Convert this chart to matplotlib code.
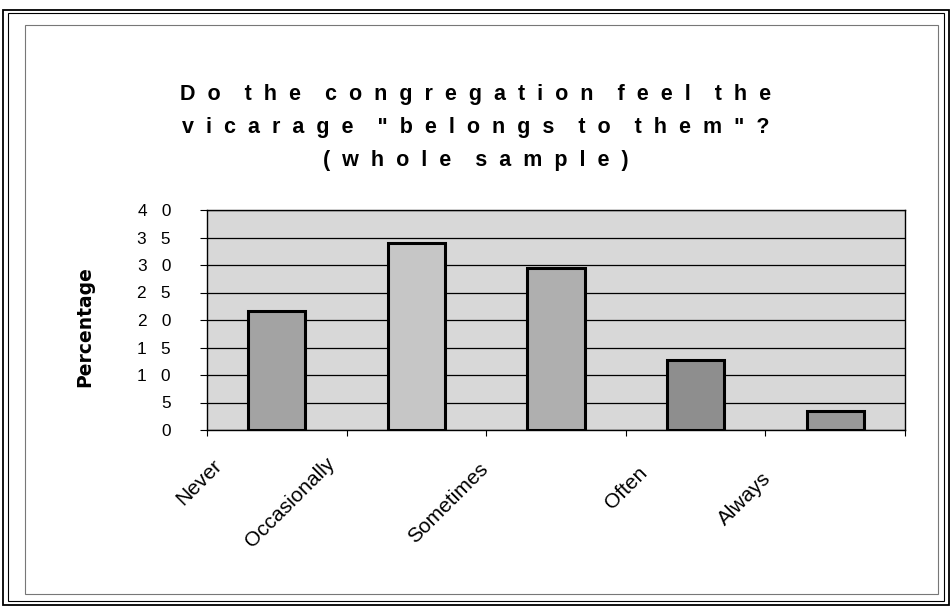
import matplotlib.pyplot as plt
import matplotlib.transforms as mtransforms
from matplotlib.patches import Rectangle

categories = ["Never", "Occasionally", "Sometimes", "Often", "Always"]
percentages = [21.6, 34.0, 29.5, 12.7, 3.5]
y_ticks = [0, 5, 10, 15, 20, 25, 30, 35, 40]
y_tick_labels = ["0", "5", "10", "15", "20", "25", "30", "35", "40"]
title_lines = [
    'Do the congregation feel the',
    'vicarage "belongs to them"?',
    '(whole sample)',
]

bar_colors = ["#a3a3a3", "#c6c6c6", "#afafaf", "#8e8e8e", "#999999"]
# where each rotated label ends, relative to its bar centre (px)
label_shift = [(-58, -33), (-84, -31), (-71, -36), (-51, -40), (-67, -46)]


def spaced(s, gap="  ", word_gap="    "):
    # the old chart prints its title and numbers letter-spaced
    return word_gap.join(gap.join(w) for w in s.split(" "))


plt.rcParams["font.family"] = ["Liberation Sans", "DejaVu Sans"]

W, H = 952, 608
fig = plt.figure(figsize=(W / 100, H / 100), dpi=100)

# frames round the chart
fig.patches.append(Rectangle((3 / W, 3 / H), 1 - 6 / W, 1 - 13 / H, transform=fig.transFigure,
                             fill=False, edgecolor="black", linewidth=1.3))
fig.patches.append(Rectangle((8 / W, 7 / H), 1 - 16 / W, 1 - 20 / H, transform=fig.transFigure,
                             fill=False, edgecolor="black", linewidth=0.8))
fig.patches.append(Rectangle((25 / W, 14 / H), 913 / W, 569 / H, transform=fig.transFigure,
                             fill=False, edgecolor="#777777", linewidth=0.8))

ax = fig.add_axes([207 / W, 1 - 430 / H, 698 / W, 220 / H])
ax.set_facecolor("#d8d8d8")

x = list(range(len(categories)))
ax.bar(x, percentages, width=0.41, color=bar_colors, edgecolor="black", linewidth=2.2, zorder=3)

ax.set_xlim(-0.5, len(categories) - 0.5)
ax.set_ylim(0, 40)
ax.set_yticks(y_ticks)
ax.set_yticklabels([spaced(t, gap="   ") for t in y_tick_labels], fontsize=12.4)
ax.yaxis.grid(True, color="black", linewidth=0.9)
ax.set_axisbelow(True)
ax.tick_params(axis="y", length=5, width=0.8, pad=21)

ax.set_xticks([i - 0.5 for i in range(len(categories) + 1)])
ax.set_xticklabels([])
ax.tick_params(axis="x", which="major", length=4, width=0.8, direction="out")
ax.set_xticks(x, minor=True)
ax.set_xticklabels(categories, minor=True, rotation=45, ha="right", va="center",
                   rotation_mode="anchor", fontsize=15)
ax.tick_params(axis="x", which="minor", length=0, pad=0)
for lab, (dx, dy) in zip(ax.get_xticklabels(minor=True), label_shift):
    lab.set_transform(lab.get_transform()
                      + mtransforms.ScaledTranslation(dx / 100, dy / 100, fig.dpi_scale_trans))

for s in ax.spines.values():
    s.set_color("black")
    s.set_linewidth(1.0)

fig.text(85 / W, 1 - 327 / H, "Percentage", rotation=90, ha="center", va="center",
         fontsize=13.5, fontweight="bold", family="DejaVu Sans")

for i, line in enumerate(title_lines):
    fig.text(476 / W, 1 - (100 + 33 * i) / H, spaced(line), ha="center", va="baseline",
             fontsize=15.5, fontweight="bold")

fig.savefig("out.png", dpi=100)
